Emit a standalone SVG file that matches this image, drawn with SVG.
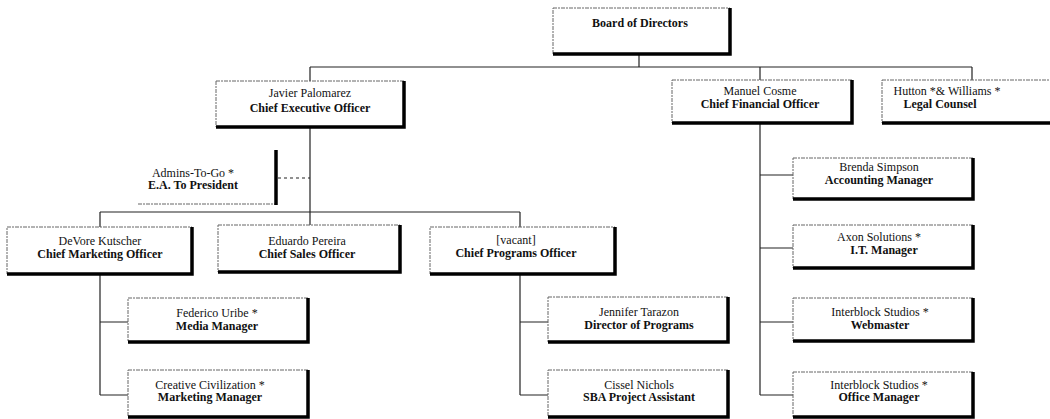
<svg xmlns="http://www.w3.org/2000/svg" width="1050" height="419" viewBox="0 0 1050 419">
<style>
.box{fill:#fff;stroke:#666;stroke-width:1;stroke-dasharray:4 1 2 1}
.sh{fill:none;stroke:#000;stroke-width:3.5}
.ln{fill:none;stroke:#222;stroke-width:1.2}
.t{font-family:"Liberation Serif","Times New Roman",serif;font-size:12px;fill:#111;text-anchor:middle}
.b{font-weight:bold}
</style>
<rect width="1050" height="419" fill="#fff"/>
<g id="connectors">
<path class="ln" d="M639 55V67M310 67H972M310 67V81M760 67V80M972 67V80"/>
<path class="ln" d="M310 128V212M100 212H520M100 212V227M310 212V225M520 212V227"/>
<path class="ln" d="M278 178H310" stroke-dasharray="3 3" stroke="#888"/>
<path class="ln" d="M100 275V395M100 322H128M100 395H128"/>
<path class="ln" d="M520 275V395M520 322H548M520 395H548"/>
<path class="ln" d="M760 124V395M760 175H793M760 248H793M760 322H793M760 395H793"/>
</g>
<g class="t">
<g id="board">
<rect class="box" x="553" y="8" width="177" height="46"/>
<path class="sh" d="M553 54H730V8"/>
<text class="b" x="640" y="27">Board of Directors</text>
</g>
<g id="ceo">
<rect class="box" x="216" y="81" width="188" height="46"/>
<path class="sh" d="M216 127H404V81"/>
<text x="310" y="97">Javier Palomarez</text>
<text class="b" x="310" y="112">Chief Executive Officer</text>
</g>
<g id="cfo">
<rect class="box" x="672" y="80" width="180" height="43"/>
<path class="sh" d="M672 123H852V80"/>
<text x="760" y="95">Manuel Cosme</text>
<text class="b" x="760" y="108">Chief Financial Officer</text>
</g>
<g id="legal">
<rect class="box" x="882" y="80" width="180" height="43"/>
<path class="sh" d="M882 123H1062V80"/>
<text x="947" y="95">Hutton *&amp; Williams *</text>
<text class="b" x="940" y="108">Legal Counsel</text>
</g>
<g id="ea">
<path d="M138 204H276" stroke="#666" stroke-width="1" stroke-dasharray="4 1 2 1"/>
<path class="sh" d="M276 150V205"/>
<text x="193" y="177">Admins-To-Go *</text>
<text class="b" x="193" y="189">E.A. To President</text>
</g>
<g id="cmo">
<rect class="box" x="7" y="227" width="185" height="47"/>
<path class="sh" d="M7 274H192V227"/>
<text x="100" y="245">DeVore Kutscher</text>
<text class="b" x="100" y="258">Chief Marketing Officer</text>
</g>
<g id="cso">
<rect class="box" x="218" y="225" width="182" height="47"/>
<path class="sh" d="M218 272H400V225"/>
<text x="307" y="245">Eduardo Pereira</text>
<text class="b" x="307" y="258">Chief Sales Officer</text>
</g>
<g id="cpo">
<rect class="box" x="430" y="227" width="185" height="47"/>
<path class="sh" d="M430 274H615V227"/>
<text x="516" y="244">[vacant]</text>
<text class="b" x="516" y="257">Chief Programs Officer</text>
</g>
<g id="media">
<rect class="box" x="128" y="298" width="180" height="44"/>
<path class="sh" d="M128 342H308V298"/>
<text x="217" y="317">Federico Uribe *</text>
<text class="b" x="217" y="330">Media Manager</text>
</g>
<g id="mktmgr">
<rect class="box" x="128" y="370" width="180" height="47"/>
<path class="sh" d="M128 417H308V370"/>
<text x="210" y="389">Creative Civilization *</text>
<text class="b" x="210" y="401">Marketing Manager</text>
</g>
<g id="dirprog">
<rect class="box" x="548" y="297" width="180" height="45"/>
<path class="sh" d="M548 342H728V297"/>
<text x="639" y="316">Jennifer Tarazon</text>
<text class="b" x="639" y="329">Director of Programs</text>
</g>
<g id="sba">
<rect class="box" x="548" y="370" width="180" height="47"/>
<path class="sh" d="M548 417H728V370"/>
<text x="639" y="389">Cissel Nichols</text>
<text class="b" x="639" y="401">SBA Project Assistant</text>
</g>
<g id="acct">
<rect class="box" x="793" y="158" width="180" height="41"/>
<path class="sh" d="M793 199H973V158"/>
<text x="879" y="171">Brenda Simpson</text>
<text class="b" x="879" y="184">Accounting Manager</text>
</g>
<g id="it">
<rect class="box" x="793" y="225" width="180" height="43"/>
<path class="sh" d="M793 268H973V225"/>
<text x="879" y="241">Axon Solutions *</text>
<text class="b" x="884" y="254">I.T. Manager</text>
</g>
<g id="web">
<rect class="box" x="793" y="298" width="180" height="43"/>
<path class="sh" d="M793 341H973V298"/>
<text x="880" y="316">Interblock Studios *</text>
<text class="b" x="880" y="329">Webmaster</text>
</g>
<g id="office">
<rect class="box" x="793" y="372" width="180" height="45"/>
<path class="sh" d="M793 417H973V372"/>
<text x="879" y="389">Interblock Studios *</text>
<text class="b" x="879" y="401">Office Manager</text>
</g>
</g>
</svg>
